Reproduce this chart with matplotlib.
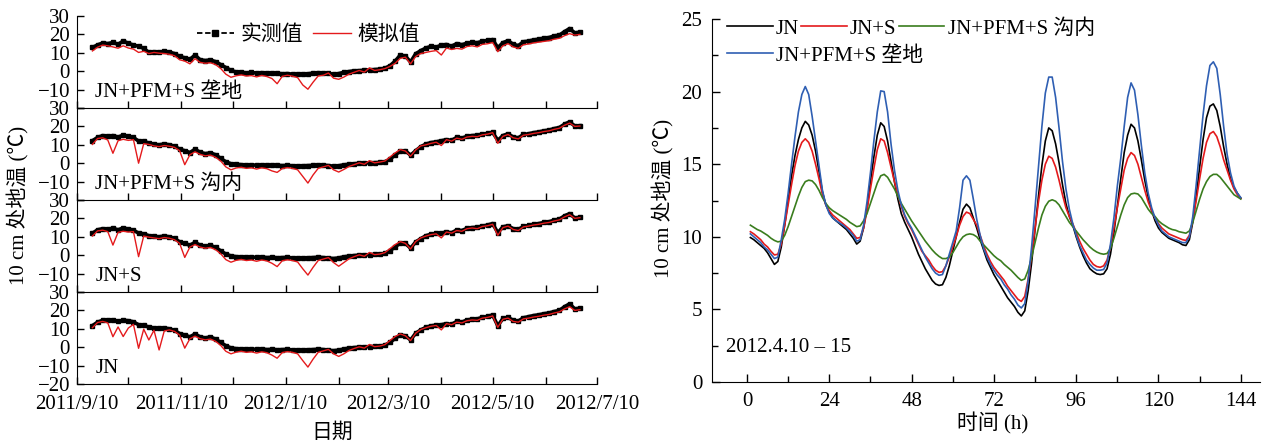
import matplotlib
matplotlib.use("Agg")
import matplotlib.pyplot as plt
import matplotlib.dates as mdates
from matplotlib.lines import Line2D
from matplotlib.ticker import MultipleLocator, FuncFormatter
import pandas as pd

plt.rcParams['font.family'] = ['Liberation Serif', 'Noto Sans CJK SC']
plt.rcParams['font.size'] = 15

# ---- left: 10 cm soil temperature, every 3 days, 2011/9/19 - 2012/6/30 ----
dates = pd.date_range('2011-09-19', '2012-06-30', freq='3D')

obs_ld = [12.9, 14.3, 15.3, 15.0, 15.6, 14.6, 16.4, 15.2, 14.2, 13.6, 12.4, 10.2,
          10.6, 10.3, 10.8, 10.4, 9.6, 8.0, 7.3, 6.4, 8.8, 6.2, 5.8, 6.1,
          5.2, 3.6, 2.0, 0.4, -0.4, -0.6, -0.9, -0.7, -1.0, -0.8, -1.1, -1.0,
          -1.2, -1.4, -1.3, -1.6, -1.7, -1.5, -1.4, -1.1, -0.8, -1.0, -1.2, -1.6,
          -1.3, -0.6, -0.2, 0.2, 0.3, 0.5, 0.7, 0.9, 1.1, 1.6, 3.0, 5.5,
          8.8, 8.2, 5.0, 9.5, 11.2, 12.6, 13.5, 13.0, 14.2, 14.5, 13.6, 15.0,
          14.4, 15.2, 15.6, 15.5, 16.2, 16.8, 17.2, 12.8, 15.5, 16.6, 14.6, 13.9,
          16.0, 16.4, 17.0, 17.4, 18.0, 18.3, 19.2, 19.6, 21.5, 23.2, 20.8, 21.2]
sim_ld = [11.0, 13.0, 14.2, 13.8, 13.2, 12.5, 13.8, 12.6, 12.0, 10.2, 10.8, 9.6,
          10.2, 9.8, 9.6, 9.2, 8.4, 6.2, 5.5, 4.0, 6.8, 4.8, 4.3, 4.6,
          3.6, 1.5, -1.6, -3.3, -2.5, -2.0, -2.6, -2.4, -3.1, -2.3, -2.9, -4.0,
          -6.8, -2.8, -2.2, -2.7, -3.5, -7.5, -9.8, -6.0, -2.6, -2.2, -1.0, -3.8,
          -4.4, -3.2, -1.6, -0.6, 0.4, -0.5, 1.8, 0.4, 0.8, 1.4, 2.6, 4.3,
          7.0, 7.6, 4.0, 8.0, 9.6, 10.2, 10.8, 11.2, 8.8, 12.6, 11.8, 12.4,
          12.0, 13.4, 13.8, 13.2, 14.6, 14.9, 15.6, 10.6, 13.8, 15.0, 13.2, 12.4,
          14.4, 14.8, 15.4, 15.8, 16.2, 16.6, 17.4, 17.9, 19.3, 20.4, 19.6, 20.0]

obs_gn = [12.2, 14.0, 15.0, 14.6, 15.0, 14.2, 15.2, 14.6, 14.0, 12.0, 11.8, 11.0,
          10.2, 10.0, 10.4, 10.0, 9.3, 7.6, 6.8, 5.8, 7.6, 5.9, 5.2, 5.6,
          4.6, 2.6, 0.8, -0.3, -0.6, -0.8, -1.0, -0.9, -1.1, -1.0, -1.2, -1.1,
          -1.2, -1.3, -1.2, -1.4, -1.5, -1.4, -1.3, -1.2, -1.0, -1.1, -1.3, -1.6,
          -1.4, -0.9, -0.6, -0.3, -0.1, 0.1, 0.2, 0.3, 0.4, 0.8, 2.2, 4.5,
          6.5, 6.8, 4.3, 6.8, 9.0, 10.4, 11.2, 11.6, 12.2, 12.8, 12.4, 14.0,
          13.6, 14.6, 15.0, 15.2, 15.8, 16.2, 16.8, 12.4, 15.0, 16.0, 14.2, 13.8,
          15.6, 16.0, 16.6, 17.0, 17.6, 18.0, 18.8, 19.4, 21.2, 22.5, 20.2, 20.4]
sim_gn = [10.2, 13.4, 13.8, 12.6, 5.4, 12.2, 13.0, 12.4, 12.8, 0.0, 10.6, 10.2,
          9.4, 9.0, 9.6, 9.2, 8.6, 6.8, -0.8, 4.6, 6.2, 4.8, 4.0, 4.4,
          3.2, 1.2, -2.0, -3.6, -2.6, -2.2, -2.8, -2.5, -3.2, -2.5, -3.0, -4.2,
          -5.0, -2.9, -2.4, -2.8, -3.6, -7.2, -10.8, -6.4, -2.8, -2.0, -1.2, -3.6,
          -4.8, -3.4, -1.8, -0.8, 0.2, -0.6, 1.4, 0.2, 0.6, 1.2, 3.4, 5.6,
          7.4, 6.6, 3.8, 7.2, 9.4, 10.0, 10.8, 11.4, 9.6, 12.8, 12.0, 13.6,
          13.0, 14.2, 14.6, 14.4, 15.4, 15.8, 16.6, 10.8, 14.6, 15.6, 13.8, 13.2,
          15.2, 15.6, 16.2, 16.6, 17.2, 17.6, 18.4, 19.0, 20.6, 21.8, 20.0, 20.2]

obs_s = [11.9, 13.8, 14.4, 14.2, 14.6, 13.8, 14.8, 14.2, 13.6, 12.0, 11.6, 10.6,
         10.2, 10.0, 10.4, 10.0, 9.2, 7.2, 6.4, 5.4, 7.0, 5.4, 4.8, 5.4,
         4.2, 2.4, 0.6, -0.4, -0.8, -0.9, -1.1, -1.0, -1.2, -1.0, -1.3, -1.2,
         -1.4, -1.3, -1.2, -1.5, -1.6, -1.5, -1.4, -1.3, -1.1, -1.3, -1.5, -1.8,
         -1.5, -0.9, -0.5, -0.2, 0.0, 0.1, 0.3, 0.4, 0.5, 1.0, 2.4, 4.6,
         6.5, 6.4, 3.8, 7.2, 9.0, 10.6, 11.4, 11.8, 12.0, 12.6, 12.2, 13.7,
         13.4, 14.6, 15.0, 15.2, 15.8, 16.4, 17.2, 12.2, 15.4, 16.0, 14.4, 14.0,
         15.6, 16.2, 16.8, 17.2, 17.8, 18.2, 19.0, 19.6, 21.4, 22.6, 20.2, 20.6]
sim_s = [10.4, 13.2, 13.6, 12.8, 5.5, 12.4, 13.0, 12.6, 12.8, -0.8, 10.4, 9.8,
         9.4, 9.0, 9.6, 9.2, 8.4, 6.4, -1.2, 4.4, 5.8, 4.4, 3.8, 4.2,
         3.0, 0.8, -2.4, -3.8, -2.8, -2.3, -2.9, -2.6, -3.3, -2.6, -3.1, -4.4,
         -6.2, -3.0, -2.5, -2.9, -3.7, -7.4, -10.8, -6.6, -2.9, -2.1, -1.3, -4.0,
         -6.0, -4.0, -2.0, -0.8, 0.2, -0.6, 1.5, 0.3, 0.6, 1.4, 3.6, 5.8,
         7.4, 6.4, 3.4, 7.4, 9.4, 10.4, 11.2, 11.6, 9.4, 12.6, 12.0, 13.4,
         13.0, 14.4, 14.8, 14.4, 15.6, 16.0, 16.8, 10.8, 15.0, 15.8, 14.0, 13.4,
         15.4, 15.8, 16.4, 16.8, 17.4, 17.8, 18.6, 19.2, 20.8, 22.0, 20.0, 20.4]

obs_jn = [11.7, 13.6, 14.6, 14.8, 14.8, 14.0, 14.6, 14.4, 13.8, 12.2, 11.8, 11.0,
          10.4, 10.2, 10.4, 10.0, 9.2, 7.4, 6.6, 5.6, 7.2, 5.6, 5.0, 5.6,
          4.4, 2.6, 0.8, -0.4, -0.8, -0.9, -1.1, -1.0, -1.2, -1.0, -1.3, -1.2,
          -1.4, -1.3, -1.2, -1.5, -1.6, -1.5, -1.4, -1.3, -1.1, -1.3, -1.6, -1.9,
          -1.6, -1.0, -0.5, -0.2, 0.0, 0.2, 0.3, 0.4, 0.5, 1.1, 2.6, 4.8,
          6.6, 6.2, 3.9, 7.6, 9.4, 10.8, 11.6, 12.0, 12.2, 12.8, 12.4, 14.0,
          13.6, 14.8, 15.2, 15.4, 16.2, 16.8, 17.5, 11.6, 15.6, 16.2, 14.6, 14.2,
          16.0, 16.6, 17.2, 17.6, 18.2, 18.6, 19.4, 20.0, 22.0, 23.6, 20.8, 21.2]
sim_jn = [10.6, 13.4, 14.0, 13.2, 5.7, 11.0, 5.8, 10.4, 12.4, -0.6, 9.8, 3.9,
          9.2, -1.5, 8.8, 9.4, 8.6, 6.6, -0.5, 4.6, 6.0, 4.6, 4.0, 4.4,
          3.2, 1.0, -2.2, -3.6, -2.7, -2.2, -2.8, -2.5, -3.2, -2.5, -3.0, -4.3,
          -6.0, -2.9, -2.4, -2.8, -3.6, -7.3, -10.8, -6.5, -2.8, -2.0, -1.2, -3.6,
          -5.0, -3.6, -1.8, -0.7, 0.2, -0.5, 1.5, 0.3, 0.6, 1.4, 3.6, 5.8,
          7.2, 6.2, 3.6, 7.6, 9.6, 10.6, 11.4, 11.8, 9.4, 12.8, 12.2, 13.6,
          13.2, 14.4, 14.8, 14.6, 15.8, 16.2, 17.0, 10.8, 15.2, 15.8, 14.0, 13.6,
          15.4, 15.8, 16.4, 16.8, 17.4, 17.8, 18.6, 19.2, 20.8, 22.0, 20.0, 20.4]

panel_names = ['JN+PFM+S 垄地', 'JN+PFM+S 沟内', 'JN+S', 'JN']
panel_obs = [obs_ld, obs_gn, obs_s, obs_jn]
panel_sim = [sim_ld, sim_gn, sim_s, sim_jn]

# ---- right: hourly simulated 10 cm temperature, 2012.4.10 - 15 ----
hours = list(range(1, 145))
t_jn = [9.95, 9.8, 9.6, 9.4, 9.2, 8.9, 8.5, 8.1, 8.3, 9.3, 10.8, 12.5,
        14.2, 15.6, 16.7, 17.5, 17.95, 17.7, 17.0, 15.9, 14.5, 13.1, 12.2, 11.7,
        11.3, 11.1, 10.9, 10.7, 10.5, 10.2, 9.9, 9.5, 9.7, 10.6, 12.0, 13.8,
        15.5, 17.0, 17.85, 17.6, 16.6, 15.2, 13.8, 12.6, 11.6, 11.0, 10.5, 10.0,
        9.4, 8.8, 8.3, 7.8, 7.4, 7.0, 6.75, 6.65, 6.7, 7.2, 8.0, 9.0,
        10.0, 11.0, 11.9, 12.25, 12.0, 11.3, 10.6, 9.8, 9.1, 8.4, 7.9, 7.4,
        7.0, 6.6, 6.2, 5.8, 5.5, 5.2, 4.8, 4.55, 4.9, 6.3, 8.2, 10.5,
        12.8, 14.9, 16.6, 17.5, 17.3, 16.4, 15.1, 13.6, 12.3, 11.4, 10.8, 10.0,
        9.3, 8.7, 8.2, 7.8, 7.6, 7.45, 7.4, 7.45, 7.8, 8.8, 10.3, 12.1,
        14.0, 15.8, 17.0, 17.75, 17.5, 16.6, 15.3, 13.9, 12.7, 11.8, 11.1, 10.6,
        10.3, 10.1, 9.9, 9.8, 9.7, 9.6, 9.45, 9.4, 9.8, 11.0, 12.8, 14.8,
        16.7, 18.2, 19.0, 19.15, 18.7, 17.6, 16.2, 15.0, 14.0, 13.4, 13.0, 12.65]
t_jns = [10.35, 10.2, 10.0, 9.8, 9.5, 9.3, 9.0, 8.75, 8.8, 9.5, 10.8, 12.2,
         13.6, 14.9, 15.9, 16.5, 16.75, 16.5, 15.9, 15.0, 14.0, 12.9, 12.2, 11.8,
         11.5, 11.3, 11.1, 10.9, 10.7, 10.5, 10.2, 9.9, 9.95, 10.6, 11.8, 13.3,
         14.7, 16.0, 16.75, 16.6, 15.8, 14.8, 13.8, 12.9, 12.1, 11.4, 10.9, 10.5,
         10.0, 9.5, 9.0, 8.7, 8.4, 8.0, 7.7, 7.55, 7.6, 8.0, 8.6, 9.3,
         10.0, 10.8, 11.4, 11.7, 11.6, 11.2, 10.8, 10.1, 9.4, 8.8, 8.3, 7.9,
         7.6, 7.3, 7.0, 6.6, 6.3, 6.0, 5.7, 5.55, 5.9, 7.1, 8.7, 10.6,
         12.4, 13.9, 15.0, 15.55, 15.4, 14.8, 13.9, 12.9, 12.0, 11.4, 10.9, 10.3,
         9.7, 9.2, 8.8, 8.4, 8.1, 7.95, 7.9, 8.0, 8.4, 9.3, 10.6, 12.0,
         13.3, 14.6, 15.4, 15.8, 15.6, 15.0, 14.1, 13.2, 12.4, 11.8, 11.3, 10.9,
         10.6, 10.4, 10.2, 10.1, 10.0, 9.9, 9.8, 9.75, 10.1, 11.1, 12.5, 14.0,
         15.4, 16.5, 17.1, 17.25, 16.9, 16.2, 15.3, 14.6, 13.9, 13.3, 12.9, 12.65]
t_gn = [10.8, 10.65, 10.5, 10.4, 10.25, 10.1, 9.9, 9.75, 9.65, 9.7, 10.1, 10.7,
        11.4, 12.1, 12.8, 13.4, 13.8, 13.9, 13.85, 13.6, 13.2, 12.7, 12.3, 12.0,
        11.8, 11.65, 11.5, 11.35, 11.2, 11.0, 10.85, 10.7, 10.75, 11.1, 11.6, 12.3,
        13.0, 13.7, 14.2, 14.3, 14.1, 13.7, 13.3, 12.8, 12.3, 11.9, 11.5, 11.1,
        10.75, 10.4, 10.05, 9.7, 9.4, 9.1, 8.85, 8.65, 8.5, 8.5, 8.6, 8.9,
        9.3, 9.7, 10.0, 10.15, 10.2, 10.15, 10.0, 9.7, 9.45, 9.2, 8.95, 8.7,
        8.5, 8.35, 8.1, 7.9, 7.7, 7.45, 7.2, 7.0, 7.1, 7.7, 8.6, 9.6,
        10.6, 11.5, 12.1, 12.45, 12.55, 12.45, 12.2, 11.8, 11.4, 11.0, 10.7, 10.4,
        10.1, 9.8, 9.55, 9.3, 9.1, 8.95, 8.85, 8.8, 8.85, 9.2, 9.9, 10.7,
        11.5, 12.2, 12.7, 12.95, 13.0, 12.95, 12.7, 12.3, 11.9, 11.6, 11.4, 11.1,
        10.9, 10.75, 10.6, 10.5, 10.45, 10.35, 10.3, 10.25, 10.4, 11.0, 11.8, 12.6,
        13.3, 13.8, 14.15, 14.3, 14.3, 14.1, 13.8, 13.5, 13.2, 12.9, 12.75, 12.6]
t_ld = [10.2, 10.0, 9.8, 9.6, 9.3, 9.1, 8.8, 8.5, 8.6, 9.8, 11.2, 13.0,
        15.0, 16.9, 18.6, 19.8, 20.35, 19.8, 18.3, 16.6, 14.9, 13.2, 12.2, 11.6,
        11.3, 11.1, 10.95, 10.8, 10.6, 10.35, 10.1, 9.7, 9.8, 10.8, 12.4, 14.4,
        16.6, 18.6, 20.05, 20.0, 18.6, 16.4, 14.6, 13.2, 12.2, 11.5, 11.0, 10.6,
        10.1, 9.6, 9.1, 8.6, 8.2, 7.8, 7.5, 7.35, 7.4, 8.0, 8.8, 9.6,
        10.4, 12.0, 13.9, 14.2, 13.9, 12.6, 11.2, 10.1, 9.2, 8.6, 8.1, 7.7,
        7.35, 7.1, 6.7, 6.4, 6.0, 5.7, 5.3, 5.1, 5.4, 7.0, 9.3, 12.0,
        14.8, 17.6, 19.9, 21.0, 21.0, 19.6, 17.5, 15.2, 13.3, 11.9, 10.9, 10.1,
        9.4, 8.9, 8.4, 8.1, 7.85, 7.7, 7.7, 7.75, 8.2, 9.5, 11.3, 13.5,
        15.4, 17.6, 19.6, 20.6, 20.1, 18.4, 16.3, 14.4, 13.0, 12.0, 11.3, 10.8,
        10.4, 10.2, 10.0, 9.9, 9.8, 9.7, 9.6, 9.6, 10.0, 11.4, 13.6, 16.0,
        18.4, 20.4, 21.8, 22.05, 21.6, 19.8, 17.6, 15.7, 14.4, 13.5, 13.0, 12.7]

W, H = 1266, 446
fig = plt.figure(figsize=(W / 100, H / 100), dpi=100)

red = '#e41a1c'

# left stack of four panels
ph = 92 / H
left_axes = []
for i in range(4):
    ax = fig.add_axes([77 / W, 1 - (108 + 92 * i) / H, 520 / W, ph])
    ax.plot(dates, panel_obs[i], color='k', lw=2.6, marker='s', ms=2.6, zorder=2)
    ax.plot(dates, panel_sim[i], color=red, lw=1.0, zorder=3)
    ax.set_xlim(pd.Timestamp('2011-09-10'), pd.Timestamp('2012-07-10'))
    ax.set_ylim(-20, 30)
    ax.set_yticks([-20, -10, 0, 10, 20, 30])
    if i < 3:
        ax.set_yticklabels(['', '−10', '0', '10', '20', '30'])
    else:
        ax.set_yticklabels(['−20', '−10', '0', '10', '20', '30'])
    ax.xaxis.set_major_locator(mdates.MonthLocator(bymonthday=10))
    if i == 3:
        ax.xaxis.set_major_formatter(FuncFormatter(
            lambda v, p: (lambda d: f'{d.year}/{d.month}/{d.day}' if d.month % 2 == 1 else '')(mdates.num2date(v))))
    else:
        ax.xaxis.set_major_formatter(FuncFormatter(lambda v, p: ''))
    ax.spines['top'].set_visible(False)
    ax.spines['right'].set_visible(False)
    ax.tick_params(direction='in', length=5, width=1, pad=5)
    ax.tick_params(axis='x', pad=8)
    ax.patch.set_alpha(0)
    ax.text(0.035, 0.07, panel_names[i], transform=ax.transAxes, ha='left', va='bottom')
    left_axes.append(ax)

obs_h = Line2D([], [], color='k', lw=1.3, ls=(0, (3, 1.5)), marker='s', ms=4)
sim_h = Line2D([], [], color=red, lw=1.0)
left_axes[0].legend([obs_h, sim_h], ['实测值', '模拟值'], loc='center left',
                    bbox_to_anchor=(0.23, 0.79), ncol=2, frameon=False, borderpad=0,
                    borderaxespad=0, handlelength=1.8, handletextpad=0.3,
                    columnspacing=0.5)

fig.text(18 / W, 1 - 205 / H, '10 cm 处地温 (℃)', rotation=90, ha='center', va='center')
fig.text(332 / W, 1 - 433 / H, '日期', ha='center', va='center')

# right panel
ax2 = fig.add_axes([712 / W, 1 - 382 / H, 548 / W, 363 / H])
l1, = ax2.plot(hours, t_jn, color='k', lw=1.2)
l2, = ax2.plot(hours, t_jns, color=red, lw=1.2)
l3, = ax2.plot(hours, t_gn, color='#3a7d1e', lw=1.2)
l4, = ax2.plot(hours, t_ld, color='#2f5fb3', lw=1.2)
ax2.set_xlim(-10.2, 149.6)
ax2.set_ylim(0, 25)
ax2.set_xticks([0, 24, 48, 72, 96, 120, 144])
ax2.xaxis.set_minor_locator(MultipleLocator(12))
ax2.yaxis.set_major_locator(MultipleLocator(5))
ax2.yaxis.set_minor_locator(MultipleLocator(2.5))
ax2.spines['top'].set_visible(False)
ax2.spines['right'].set_visible(False)
ax2.tick_params(which='major', direction='in', length=6, width=1, pad=7)
ax2.tick_params(which='minor', direction='in', length=4, width=1)
leg1 = ax2.legend([l1, l2, l3], ['JN', 'JN+S', 'JN+PFM+S 沟内'], loc='upper left',
                  bbox_to_anchor=(0.027, 1.0), ncol=3, frameon=False, borderpad=0,
                  borderaxespad=0, handlelength=2.2, handletextpad=0.15,
                  columnspacing=0.1)
ax2.add_artist(leg1)
ax2.legend([l4], ['JN+PFM+S 垄地'], loc='upper left', bbox_to_anchor=(0.027, 0.926),
           frameon=False, borderpad=0, borderaxespad=0, handlelength=2.2,
           handletextpad=0.15)
ax2.text(-6, 2.4, '2012.4.10 – 15', ha='left', va='center')
fig.text(663 / W, 1 - 198 / H, '10 cm 处地温 (℃)', rotation=90, ha='center', va='center')
fig.text(993 / W, 1 - 423 / H, '时间 (h)', ha='center', va='center')

fig.savefig('out.png', dpi=100)
